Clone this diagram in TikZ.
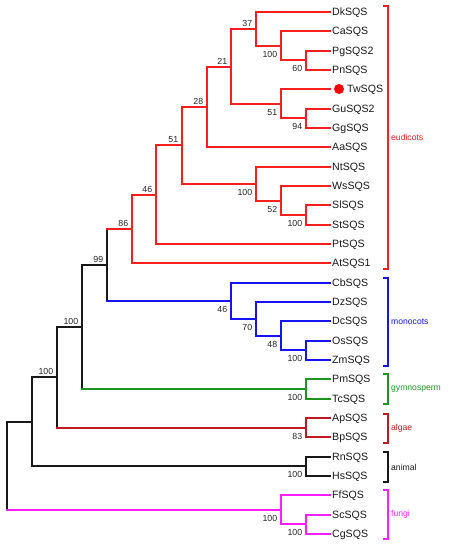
\documentclass[tikz,border=0pt]{standalone}
\usepackage{fontspec}
\setmainfont{Liberation Sans}
\definecolor{eured}{RGB}{250,30,30}
\definecolor{monoblue}{RGB}{20,20,245}
\definecolor{gymgreen}{RGB}{30,150,30}
\definecolor{algred}{RGB}{190,25,35}
\definecolor{fungmag}{RGB}{255,30,255}
\definecolor{anigray}{RGB}{25,25,25}
\newcommand\mkclade[6]{%
  \draw[br,#6] (#1 |- #2) -- (#1 |- #3);
  \draw[br,#4] (#1 |- #2) -- (#2);
  \draw[br,#5] (#1 |- #3) -- (#3);
}
\begin{document}
\begin{tikzpicture}[x=1pt,y=-1pt,
  br/.style={line width=1.5pt,line cap=rect},
  leaf/.style={anchor=west,inner sep=2pt,text height=7.5pt,text depth=0pt,font=\fontsize{10.6}{12}\selectfont,text=black!90},
  bsup/.style={anchor=east,inner sep=0pt,text height=6.3pt,text depth=0pt,font=\fontsize{8.8}{10}\selectfont,xshift=-3.6pt,yshift=6pt,text=black!85},
  bsdn/.style={anchor=east,inner sep=0pt,text height=6.3pt,text depth=0pt,font=\fontsize{8.8}{10}\selectfont,xshift=-3.6pt,yshift=-8.8pt,text=black!85},
  grp/.style={anchor=west,inner sep=0pt,font=\fontsize{8.6}{10}\selectfont},
  brk/.style={line width=1.5pt}]
\useasboundingbox (0,0) rectangle (449,550);
% leaves
\foreach \nm/\lab/\yy in {Dk/DkSQS/12, Ca/CaSQS/31, Pg/PgSQS2/51, Pn/PnSQS/70,
  Gu/GuSQS2/109, Gg/GgSQS/128, Aa/AaSQS/147, Nt/NtSQS/167, Ws/WsSQS/186,
  Sl/SlSQS/205, St/StSQS/225, Pt/PtSQS/244, At/AtSQS1/263, Cb/CbSQS/283,
  Dz/DzSQS/302, Dc/DcSQS/321, Os/OsSQS/341, Zm/ZmSQS/360, Pm/PmSQS/379,
  Tc/TcSQS/399, Ap/ApSQS/418, Bp/BpSQS/437, Rn/RnSQS/457, Hs/HsSQS/476,
  Ff/FfSQS/495, Sc/ScSQS/515, Cg/CgSQS/534}{
  \coordinate (\nm) at (330,\yy);
  \node[leaf] (\nm t) at (\nm) {\lab};
}
\coordinate (Tw) at (330,89);
\node[circle,fill=red,draw=none,minimum size=10pt,inner sep=0pt] (twdot) at (339,89) {};
\node[leaf] (Twt) at (345,89) {TwSQS};
% internal nodes
\coordinate (n60) at (306,60);
\coordinate (n100a) at (281,46);
\coordinate (n37) at (256,29);
\coordinate (n94) at (306,118);
\coordinate (n51a) at (281,104);
\coordinate (n21) at (231,67);
\coordinate (n28) at (207,107);
\coordinate (n100b) at (306,215);
\coordinate (n52) at (281,201);
\coordinate (n100c) at (256,184);
\coordinate (n51b) at (182,145);
\coordinate (n46a) at (156,195);
\coordinate (n86) at (132,229);
\coordinate (n100d) at (306,350);
\coordinate (n48) at (281,336);
\coordinate (n70) at (256,319);
\coordinate (n46b) at (231,301);
\coordinate (n99) at (107,265);
\coordinate (n100g) at (306,389);
\coordinate (n100e) at (82,327);
\coordinate (n83) at (306,428);
\coordinate (n100f) at (57,377);
\coordinate (n100an) at (306,466);
\coordinate (nX) at (32,422);
\coordinate (n100sc) at (306,524);
\coordinate (nfungi) at (281,510);
\coordinate (root) at (7,466);
% eudicots
\mkclade{n60}{Pg}{Pn}{eured}{eured}{eured}
\mkclade{n100a}{Ca}{n60}{eured}{eured}{eured}
\mkclade{n37}{Dk}{n100a}{eured}{eured}{eured}
\mkclade{n94}{Gu}{Gg}{eured}{eured}{eured}
\mkclade{n51a}{Tw}{n94}{eured}{eured}{eured}
\mkclade{n21}{n37}{n51a}{eured}{eured}{eured}
\mkclade{n28}{n21}{Aa}{eured}{eured}{eured}
\mkclade{n100b}{Sl}{St}{eured}{eured}{eured}
\mkclade{n52}{Ws}{n100b}{eured}{eured}{eured}
\mkclade{n100c}{Nt}{n52}{eured}{eured}{eured}
\mkclade{n51b}{n28}{n100c}{eured}{eured}{eured}
\mkclade{n46a}{n51b}{Pt}{eured}{eured}{eured}
\mkclade{n86}{n46a}{At}{eured}{eured}{eured}
% monocots
\mkclade{n100d}{Os}{Zm}{monoblue}{monoblue}{monoblue}
\mkclade{n48}{Dc}{n100d}{monoblue}{monoblue}{monoblue}
\mkclade{n70}{Dz}{n48}{monoblue}{monoblue}{monoblue}
\mkclade{n46b}{Cb}{n70}{monoblue}{monoblue}{monoblue}
% backbone
\mkclade{n99}{n86}{n46b}{eured}{monoblue}{anigray}
\mkclade{n100g}{Pm}{Tc}{gymgreen}{gymgreen}{gymgreen}
\mkclade{n100e}{n99}{n100g}{anigray}{gymgreen}{anigray}
\mkclade{n83}{Ap}{Bp}{algred}{algred}{algred}
\mkclade{n100f}{n100e}{n83}{anigray}{algred}{anigray}
\mkclade{n100an}{Rn}{Hs}{anigray}{anigray}{anigray}
\mkclade{nX}{n100f}{n100an}{anigray}{anigray}{anigray}
\mkclade{n100sc}{Sc}{Cg}{fungmag}{fungmag}{fungmag}
\mkclade{nfungi}{Ff}{n100sc}{fungmag}{fungmag}{fungmag}
\mkclade{root}{nX}{nfungi}{anigray}{fungmag}{anigray}
% bootstrap labels
\node[bsup] at (n37) {37};
\node[bsdn] at (n100a) {100};
\node[bsdn] at (n60) {60};
\node[bsup] at (n21) {21};
\node[bsdn] at (n51a) {51};
\node[bsdn] at (n94) {94};
\node[bsup] at (n28) {28};
\node[bsup] at (n51b) {51};
\node[bsdn] at (n100c) {100};
\node[bsdn] at (n52) {52};
\node[bsdn] at (n100b) {100};
\node[bsup] at (n46a) {46};
\node[bsup] at (n86) {86};
\node[bsup] at (n99) {99};
\node[bsdn] at (n46b) {46};
\node[bsdn] at (n70) {70};
\node[bsdn] at (n48) {48};
\node[bsdn] at (n100d) {100};
\node[bsup] at (n100e) {100};
\node[bsdn] at (n100g) {100};
\node[bsup] at (n100f) {100};
\node[bsdn] at (n83) {83};
\node[bsdn] at (n100an) {100};
\node[bsdn] at (nfungi) {100};
\node[bsdn] at (n100sc) {100};
% group brackets
\coordinate (eA) at (383,6); \coordinate (eB) at (383,269);
\draw[brk,eured] (eA) -- ++(5,0) |- (eB);
\node[grp,text=eured] (eud) at (391,137) {eudicots};
\coordinate (mA) at (383,278); \coordinate (mB) at (383,366);
\draw[brk,monoblue] (mA) -- ++(5,0) |- (mB);
\node[grp,text=monoblue] (mon) at (391,321.7) {monocots};
\coordinate (gA) at (383,374); \coordinate (gB) at (383,404);
\draw[brk,gymgreen] (gA) -- ++(5,0) |- (gB);
\node[grp,text=gymgreen] (gym) at (391,389) {gymnosperm};
\coordinate (aA) at (383,414); \coordinate (aB) at (383,443);
\draw[brk,algred] (aA) -- ++(5,0) |- (aB);
\node[grp,text=algred] (alg) at (391,428.3) {algae};
\coordinate (nA) at (383,452); \coordinate (nB) at (383,482);
\draw[brk,anigray] (nA) -- ++(5,0) |- (nB);
\node[grp,text=anigray] (ani) at (391,467) {animal};
\coordinate (fA) at (383,490); \coordinate (fB) at (383,539);
\draw[brk,fungmag] (fA) -- ++(5,0) |- (fB);
\node[grp,text=fungmag] (fun) at (391,514.5) {fungi};
\end{tikzpicture}
\end{document}
